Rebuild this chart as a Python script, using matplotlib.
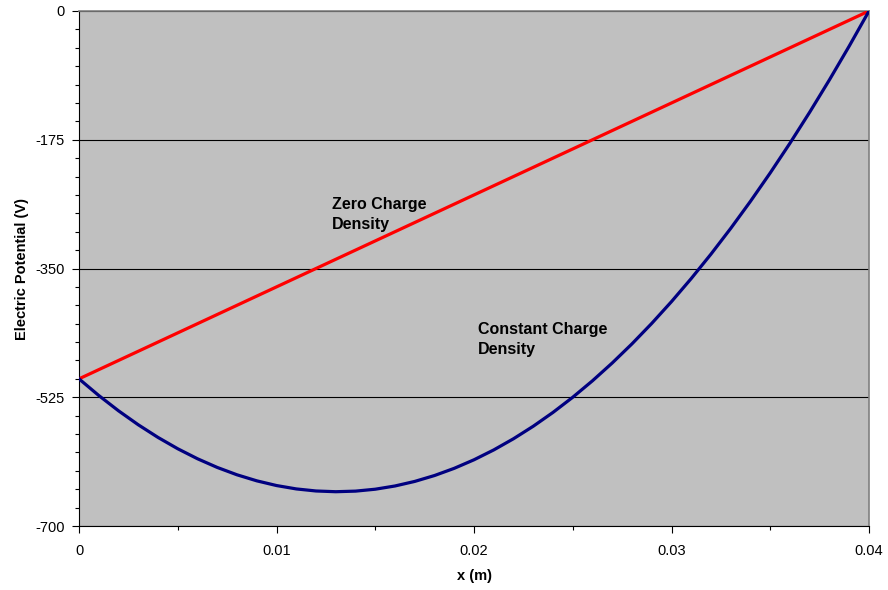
import matplotlib
matplotlib.use("Agg")
import matplotlib.pyplot as plt
from matplotlib.ticker import MultipleLocator, FuncFormatter

plt.rcParams['font.family'] = ['Liberation Sans', 'DejaVu Sans']

# Data
x_const = [0.000, 0.001, 0.002, 0.003, 0.004, 0.005, 0.006, 0.007, 0.008, 0.009,
           0.010, 0.011, 0.012, 0.013, 0.014, 0.015, 0.016, 0.017, 0.018, 0.019,
           0.020, 0.021, 0.022, 0.023, 0.024, 0.025, 0.026, 0.027, 0.028, 0.029,
           0.030, 0.031, 0.032, 0.033, 0.034, 0.035, 0.036, 0.037, 0.038, 0.039,
           0.040]
v_const = [-500.0, -522.6, -543.4, -562.4, -579.6, -595.0, -608.6, -620.4, -630.4, -638.6,
           -645.0, -649.6, -652.4, -653.4, -652.6, -650.0, -645.6, -639.4, -631.4, -621.6,
           -610.0, -596.6, -581.4, -564.4, -545.6, -525.0, -502.6, -478.4, -452.4, -424.6,
           -395.0, -363.6, -330.4, -295.4, -258.6, -220.0, -179.6, -137.4, -93.4, -47.6,
           0.0]
x_zero = [0.0, 0.04]
v_zero = [-500.0, 0.0]

fig = plt.figure(figsize=(8.88, 5.90), dpi=100)
ax = fig.add_axes([79/888, 1-526/590, (869-79)/888, (526-11)/590])
ax.set_facecolor('#C0C0C0')

ax.plot(x_zero, v_zero, color='#FF0000', lw=2.3, solid_capstyle='butt', zorder=3)
ax.plot(x_const, v_const, color='#000080', lw=2.3, zorder=3)

ax.set_xlim(0, 0.04)
ax.set_ylim(-700, 0)
ax.yaxis.set_major_locator(MultipleLocator(175))
ax.yaxis.set_minor_locator(MultipleLocator(25))
ax.xaxis.set_major_locator(MultipleLocator(0.01))
ax.xaxis.set_minor_locator(MultipleLocator(0.005))
ax.yaxis.set_major_formatter(FuncFormatter(lambda v, p: f"{int(round(v))}"))
ax.xaxis.set_major_formatter(FuncFormatter(lambda v, p: "0" if abs(v) < 1e-12 else f"{v:g}"))

ax.grid(axis='y', which='major', color='black', lw=0.8, zorder=1)
ax.set_axisbelow(True)

ax.tick_params(axis='both', which='major', direction='out', length=5, width=0.8,
               labelsize=10.5, colors='black', pad=5)
ax.tick_params(axis='both', which='minor', direction='out', length=3, width=0.8)
ax.tick_params(axis='x', which='major', pad=8)

for s in ['top', 'right']:
    ax.spines[s].set_color('#808080')
    ax.spines[s].set_linewidth(1.2)
for s in ['left', 'bottom']:
    ax.spines[s].set_color('black')
    ax.spines[s].set_linewidth(0.8)

ax.set_xlabel('x (m)', fontsize=10.5, fontweight='bold', labelpad=8)
ax.set_ylabel('Electric Potential (V)', fontsize=10.5, fontweight='bold', labelpad=5)

ax.text(0.01281, -253, 'Zero Charge\nDensity', fontsize=11.5, fontweight='bold',
        va='top', ha='left', linespacing=1.4)
ax.text(0.0202, -423, 'Constant Charge\nDensity', fontsize=11.5, fontweight='bold',
        va='top', ha='left', linespacing=1.4)

fig.savefig('out.png', dpi=100)
